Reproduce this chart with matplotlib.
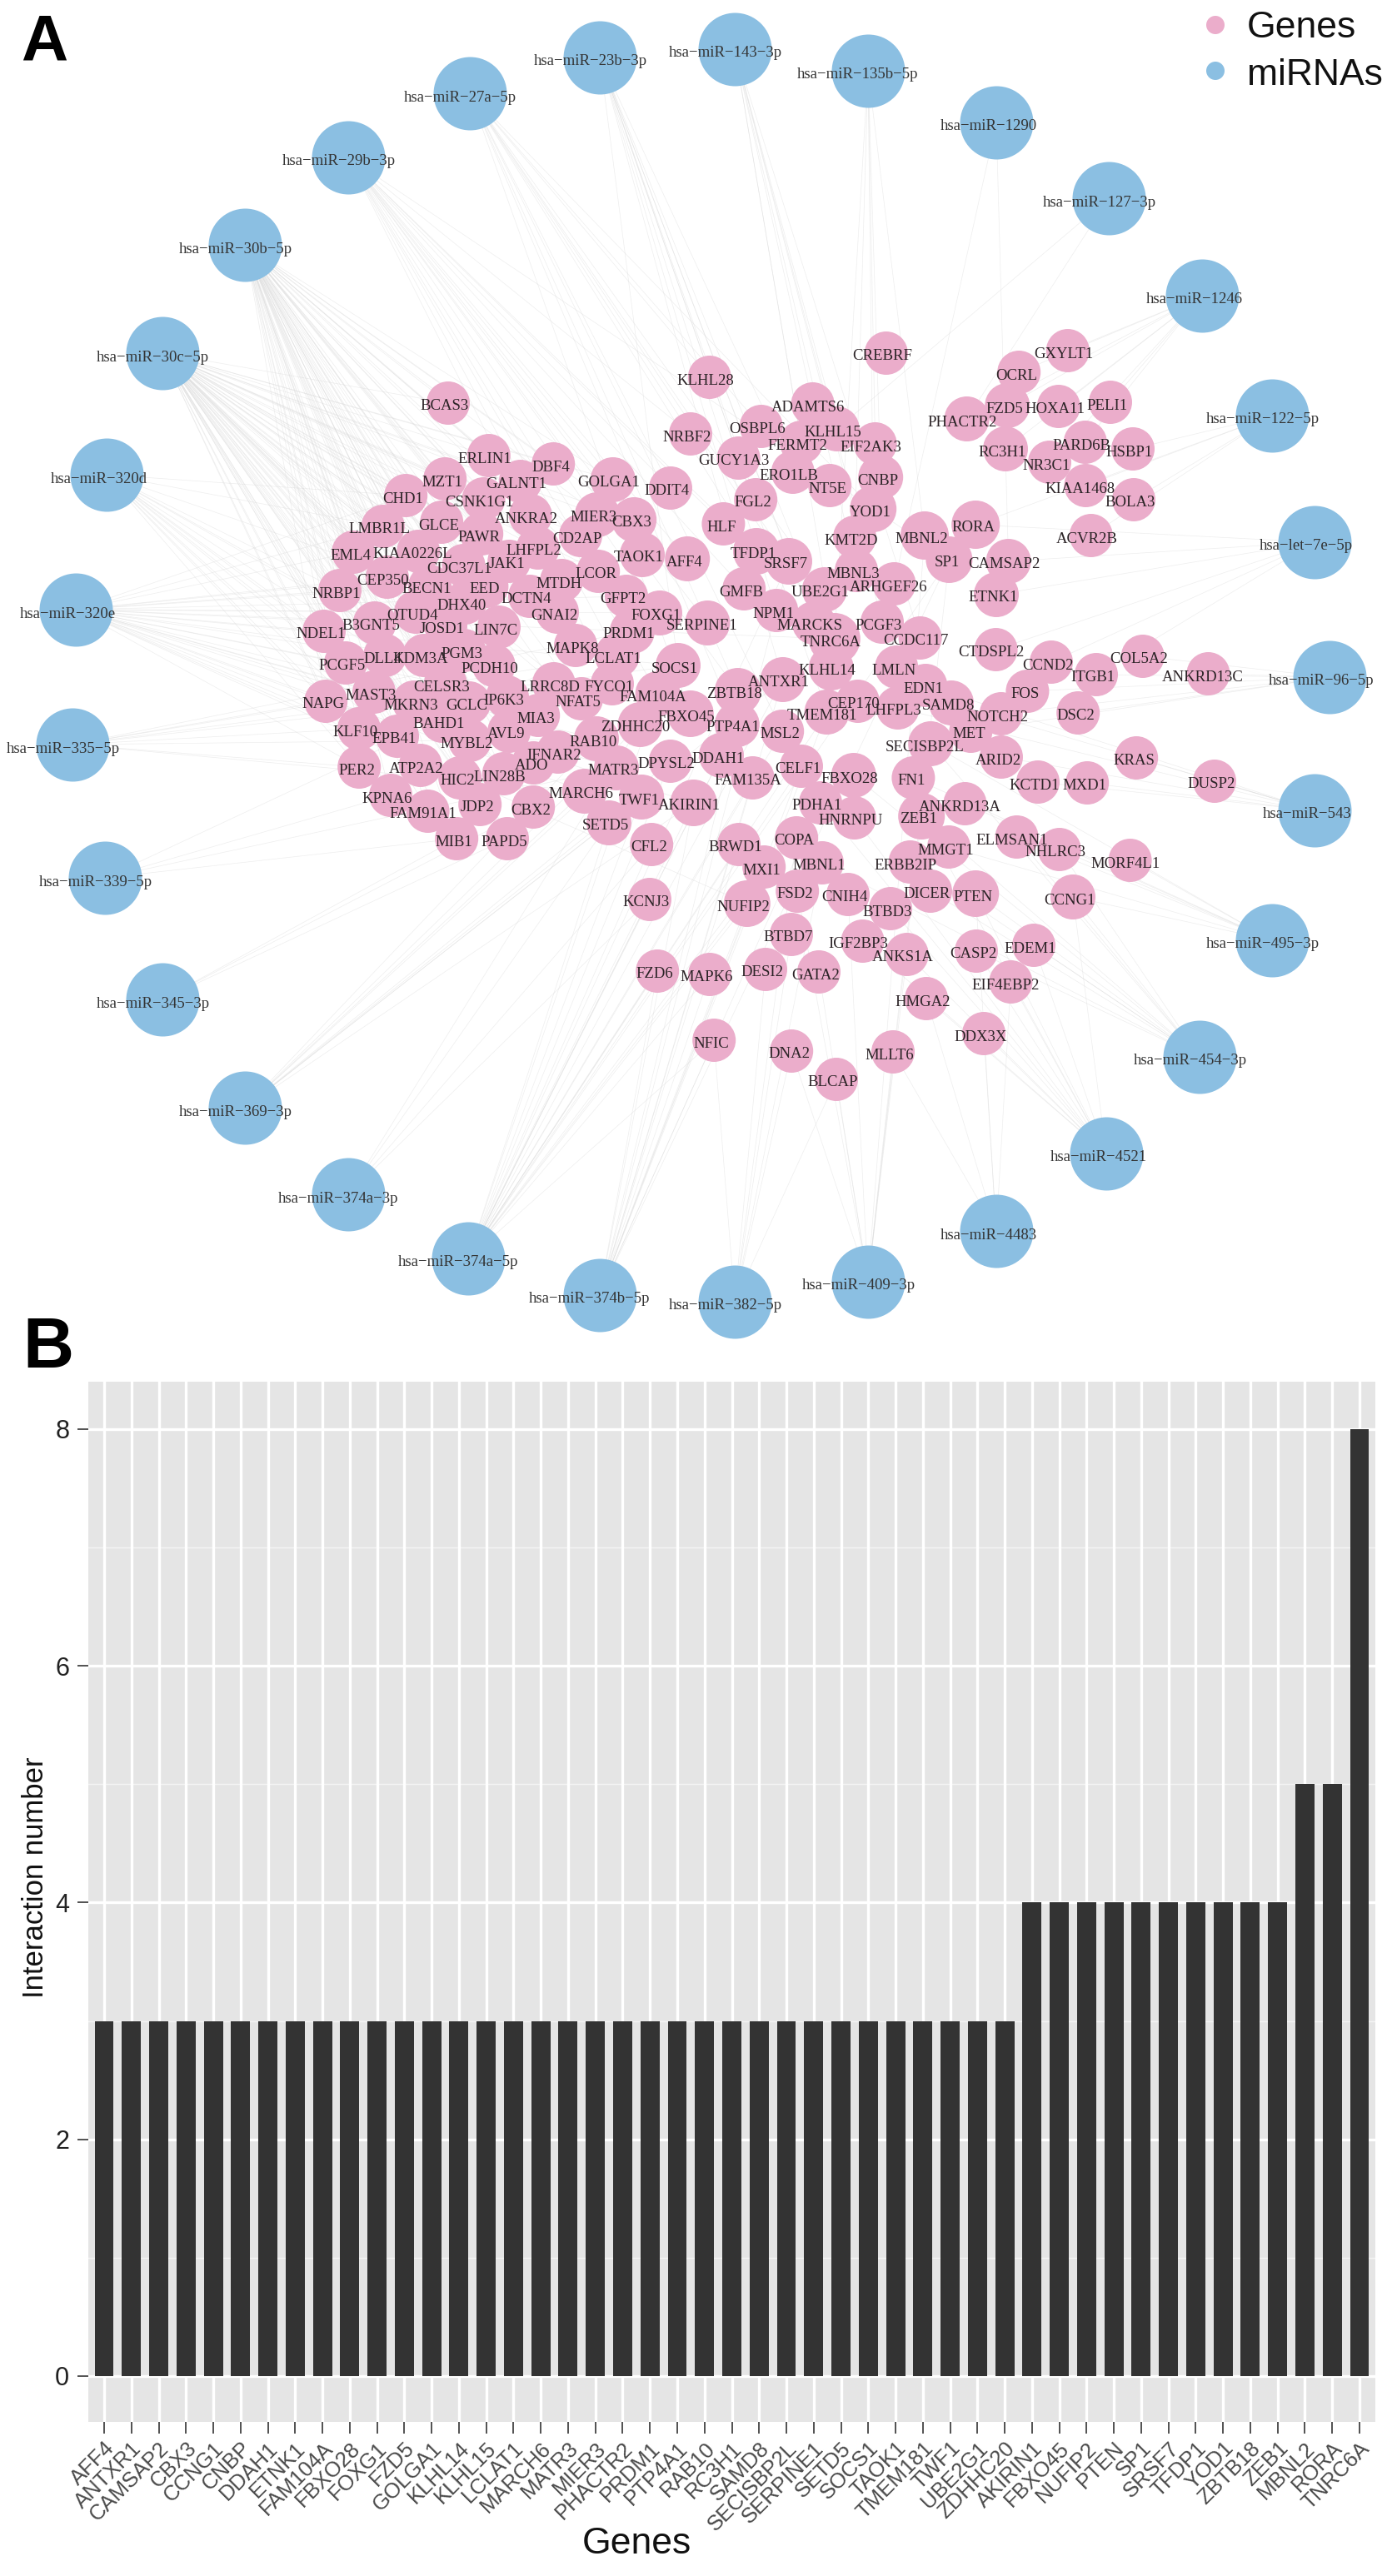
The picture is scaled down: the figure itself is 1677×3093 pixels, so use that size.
import matplotlib
matplotlib.use("Agg")
import matplotlib.pyplot as plt
from matplotlib.collections import LineCollection

W, H = 1677, 3093
DPI = 100

# ---- network data (layout, in picture pixels) ----
mirna_names = ["hsa-miR-27a-5p", "hsa-miR-23b-3p", "hsa-miR-143-3p", "hsa-miR-135b-5p", "hsa-miR-1290",
               "hsa-miR-127-3p", "hsa-miR-1246", "hsa-miR-122-5p", "hsa-let-7e-5p", "hsa-miR-96-5p",
               "hsa-miR-543", "hsa-miR-495-3p", "hsa-miR-454-3p", "hsa-miR-4521", "hsa-miR-4483",
               "hsa-miR-409-3p", "hsa-miR-382-5p", "hsa-miR-374b-5p", "hsa-miR-374a-5p", "hsa-miR-374a-3p",
               "hsa-miR-369-3p", "hsa-miR-345-3p", "hsa-miR-339-5p", "hsa-miR-335-5p", "hsa-miR-320e",
               "hsa-miR-320d", "hsa-miR-30c-5p", "hsa-miR-30b-5p", "hsa-miR-29b-3p"]
mirna_x = [564, 720, 882, 1042, 1196, 1331, 1443, 1527, 1578, 1596, 1578, 1527, 1440, 1328, 1196,
           1042, 882, 720, 562, 418, 294, 195, 126, 87, 91, 128, 195, 294, 418]
mirna_y = [112, 69, 59, 85, 147, 238, 355, 499, 651, 813, 973, 1129, 1269, 1385, 1478,
           1539, 1563, 1555, 1511, 1434, 1330, 1200, 1054, 894, 732, 570, 424, 294, 189]

gene_names = ["BCAS3", "KLHL28", "NRBF2", "ERLIN1", "DBF4", "MZT1", "GALNT1", "GOLGA1", "DDIT4", "CHD1",
              "CSNK1G1", "ANKRA2", "MIER3", "CBX3", "LMBR1L", "GLCE", "HLF", "PAWR", "CD2AP", "LHFPL2",
              "EML4", "KIAA0226L", "TAOK1", "AFF4", "CDC37L1", "JAK1", "LCOR", "MTDH", "CEP350", "NRBP1",
              "BECN1", "EED", "DCTN4", "GFPT2", "DHX40", "OTUD4", "GNAI2", "FOXG1", "B3GNT5", "JOSD1",
              "LIN7C", "SERPINE1", "NDEL1", "PRDM1", "MAPK8", "PGM3", "DLL4", "KDM3A", "PCGF5", "LCLAT1",
              "SOCS1", "PCDH10", "CELSR3", "LRRC8D", "FYCO1", "MAST3", "FAM104A", "ZBTB18", "NAPG", "MKRN3",
              "GCLC", "IP6K3", "NFAT5", "MIA3", "FBXO45", "BAHD1", "KLF10", "EPB41", "AVL9", "MYBL2",
              "IFNAR2", "RAB10", "ZDHHC20", "ADO", "MATR3", "DPYSL2", "ATP2A2", "PER2", "HIC2", "LIN28B",
              "MARCH6", "TWF1", "KPNA6", "JDP2", "CBX2", "FAM91A1", "SETD5", "CFL2", "MIB1", "PAPD5",
              "ANTXR1", "KLHL14", "LMLN", "EDN1", "CEP170", "TMEM181", "LHFPL3", "SAMD8", "PTP4A1", "MSL2",
              "MET", "SECISBP2L", "DDAH1", "CELF1", "FAM135A", "FBXO28", "FN1", "AKIRIN1", "PDHA1", "ANKRD13A",
              "HNRNPU", "ZEB1", "COPA", "BRWD1", "MMGT1", "NOTCH2", "CREBRF", "GXYLT1", "OCRL", "ADAMTS6",
              "FZD5", "HOXA11", "PELI1", "PHACTR2", "OSBPL6", "KLHL15", "FERMT2", "EIF2AK3", "PARD6B", "HSBP1",
              "RC3H1", "NR3C1", "GUCY1A3", "ERO1LB", "CNBP", "NT5E", "KIAA1468", "FGL2", "BOLA3", "YOD1",
              "RORA", "MBNL2", "KMT2D", "ACVR2B", "TFDP1", "SP1", "SRSF7", "CAMSAP2", "MBNL3", "ARHGEF26",
              "GMFB", "UBE2G1", "ETNK1", "NPM1", "MARCKS", "PCGF3", "TNRC6A", "CCDC117", "CTDSPL2", "COL5A2",
              "CCND2", "ITGB1", "ANKRD13C", "FOS", "DSC2", "KRAS", "ARID2", "KCTD1", "MXD1", "DUSP2",
              "ELMSAN1", "NHLRC3", "MORF4L1", "MXI1", "MBNL1", "ERBB2IP", "DICER", "PTEN", "CCNG1", "KCNJ3",
              "NUFIP2", "FSD2", "CNIH4", "BTBD3", "BTBD7", "IGF2BP3", "ANKS1A", "CASP2", "EDEM1", "FZD6",
              "MAPK6", "DESI2", "GATA2", "EIF4EBP2", "HMGA2", "DDX3X", "NFIC", "DNA2", "MLLT6", "BLCAP"]
gene_label_x = [534, 847, 825, 582, 661, 531, 620, 731, 801, 484,
                575, 632, 713, 758, 455, 527, 866, 575, 693, 641,
                421, 495, 767, 822, 551, 608, 715, 671, 460, 404,
                512, 582, 632, 748, 554, 495, 665, 788, 445, 531,
                595, 843, 385, 755, 687, 554, 459, 505, 411, 736,
                810, 588, 530, 660, 731, 445, 784, 881, 388, 493,
                560, 605, 694, 643, 824, 527, 427, 473, 608, 560,
                665, 712, 763, 638, 736, 800, 500, 428, 549, 600,
                697, 767, 465, 573, 637, 508, 727, 779, 545, 605,
                935, 993, 1073, 1108, 1025, 987, 1073, 1138, 880, 936,
                1163, 1110, 862, 958, 898, 1020, 1094, 827, 981, 1152,
                1021, 1103, 953, 883, 1135, 1197, 1059, 1277, 1220, 970,
                1206, 1266, 1329, 1155, 909, 1000, 957, 1045, 1298, 1356,
                1203, 1256, 881, 947, 1054, 993, 1297, 904, 1357, 1045,
                1168, 1106, 1022, 1305, 904, 1137, 943, 1205, 1024, 1067,
                890, 985, 1192, 929, 972, 1055, 997, 1099, 1190, 1367,
                1258, 1312, 1444, 1231, 1291, 1361, 1198, 1242, 1302, 1454,
                1215, 1267, 1351, 914, 983, 1087, 1113, 1168, 1284, 776,
                892, 954, 1014, 1065, 946, 1030, 1084, 1168, 1237, 786,
                848, 915, 979, 1207, 1108, 1177, 854, 947, 1068, 1000]
gene_label_y = [487, 456, 524, 550, 560, 578, 581, 579, 589, 598,
                602, 622, 621, 627, 635, 630, 632, 644, 646, 661,
                666, 665, 669, 674, 682, 677, 689, 700, 696, 712,
                707, 707, 719, 719, 727, 738, 738, 739, 751, 754,
                756, 751, 761, 761, 778, 784, 790, 790, 799, 790,
                802, 802, 824, 824, 824, 834, 836, 833, 845, 846,
                847, 840, 842, 862, 860, 869, 878, 887, 881, 892,
                906, 890, 873, 919, 925, 917, 922, 924, 937, 932,
                953, 960, 958, 969, 972, 977, 991, 1017, 1010, 1010,
                819, 805, 804, 826, 845, 858, 853, 847, 873, 881,
                881, 896, 910, 923, 937, 934, 937, 967, 967, 968,
                985, 983, 1009, 1017, 1020, 860, 427, 424, 450, 488,
                490, 491, 486, 506, 515, 518, 534, 536, 534, 542,
                542, 558, 553, 570, 576, 586, 586, 603, 603, 614,
                633, 646, 648, 646, 665, 675, 677, 677, 688, 704,
                710, 711, 717, 736, 751, 750, 770, 769, 783, 791,
                798, 813, 812, 833, 859, 913, 912, 942, 943, 941,
                1008, 1023, 1036, 1044, 1039, 1038, 1073, 1076, 1080, 1083,
                1088, 1073, 1077, 1094, 1125, 1133, 1149, 1145, 1138, 1169,
                1173, 1167, 1170, 1182, 1202, 1244, 1252, 1265, 1266, 1299]
assert len(gene_names) == len(gene_label_x) == len(gene_label_y)

mir30_targets = ["BCAS3", "ERLIN1", "DBF4", "MZT1", "GALNT1", "GOLGA1", "CHD1", "CSNK1G1", "ANKRA2", "MIER3",
                 "CBX3", "LMBR1L", "GLCE", "PAWR", "CD2AP", "LHFPL2", "EML4", "KIAA0226L", "CDC37L1", "JAK1",
                 "LCOR", "MTDH", "CEP350", "NRBP1", "BECN1", "EED", "DCTN4", "DHX40", "OTUD4", "GNAI2",
                 "B3GNT5", "JOSD1", "LIN7C", "NDEL1", "MAPK8", "PGM3", "DLL4", "KDM3A", "PCGF5", "PCDH10",
                 "CELSR3", "LRRC8D", "MAST3", "NAPG", "MKRN3", "GCLC", "IP6K3", "NFAT5", "MIA3", "BAHD1",
                 "KLF10", "EPB41", "AVL9", "MYBL2", "IFNAR2", "ADO", "ATP2A2", "PER2", "HIC2", "LIN28B",
                 "KPNA6", "JDP2", "CBX2", "FAM91A1", "MIB1", "PAPD5"]
mir320_targets = ["NDEL1", "NRBP1", "NAPG", "PCGF5", "KLF10", "PER2", "ATP2A2", "MAST3", "DLL4", "B3GNT5",
                  "BECN1", "LMBR1L", "CHD1", "KDM3A", "EPB41", "MKRN3", "CELSR3", "GFPT2", "SOCS1", "FOXG1",
                  "TNRC6A", "MATR3", "RAB10", "MARCH6", "TAOK1", "NUFIP2", "AKIRIN1", "EML4", "CEP350", "OTUD4"]
mir374_targets = ["MAPK6", "FZD6", "NFIC", "BRWD1", "NUFIP2", "FAM135A", "AKIRIN1", "CELF1", "PTP4A1", "TMEM181",
                  "SP1", "MXI1", "PDHA1", "ANTXR1", "SRSF7"]
mirna_targets = {
    "hsa-miR-27a-5p": ["KLHL28", "DDIT4", "NRBF2", "OSBPL6", "TFDP1", "SRSF7", "UBE2G1", "TNRC6A", "ZBTB18", "PTP4A1", "MSL2", "FBXO45", "YOD1"],
    "hsa-miR-23b-3p": ["ERO1LB", "GUCY1A3", "FGL2", "GMFB", "NPM1", "MARCKS", "SOCS1", "KLHL14", "ANTXR1", "TMEM181", "CEP170"],
    "hsa-miR-143-3p": ["KLHL15", "ADAMTS6", "FERMT2", "TNRC6A", "MBNL3", "PCGF3", "CCDC117", "LMLN"],
    "hsa-miR-135b-5p": ["CNBP", "EIF2AK3", "YOD1", "KMT2D", "MBNL2", "TNRC6A"],
    "hsa-miR-1290": ["ARHGEF26", "CAMSAP2"],
    "hsa-miR-127-3p": ["PHACTR2", "KLHL15"],
    "hsa-miR-1246": ["GXYLT1", "OCRL", "FZD5", "HOXA11", "PELI1", "PHACTR2", "RC3H1", "PARD6B", "NR3C1"],
    "hsa-miR-122-5p": ["HSBP1", "KIAA1468", "BOLA3", "ACVR2B", "RORA"],
    "hsa-let-7e-5p": ["ETNK1", "CAMSAP2", "RORA", "CTDSPL2", "CCND2", "ITGB1"],
    "hsa-miR-96-5p": ["COL5A2", "ANKRD13C", "ITGB1", "FOS", "NOTCH2", "DSC2", "MET"],
    "hsa-miR-543": ["KRAS", "DUSP2", "MXD1", "KCTD1", "ARID2", "SAMD8", "EDN1", "LHFPL3"],
    "hsa-miR-495-3p": ["MORF4L1", "NHLRC3", "ELMSAN1", "CCNG1", "ANKRD13A", "MMGT1", "FN1", "SECISBP2L"],
    "hsa-miR-454-3p": ["CCNG1", "EDEM1", "CASP2", "PTEN", "DICER", "ERBB2IP", "ZEB1", "MBNL1", "FBXO28", "SECISBP2L", "NHLRC3", "ELMSAN1"],
    "hsa-miR-4521": ["DDX3X", "EIF4EBP2", "HMGA2", "ANKS1A", "BTBD3", "EDEM1", "CASP2", "PTEN", "CCNG1", "ZEB1", "IGF2BP3", "HNRNPU", "PDHA1"],
    "hsa-miR-4483": ["MLLT6", "DDX3X", "HMGA2", "EIF4EBP2", "PTEN"],
    "hsa-miR-409-3p": ["BLCAP", "DNA2", "MLLT6", "GATA2", "CNIH4", "FSD2", "ANKS1A", "ZEB1", "MBNL2", "SP1"],
    "hsa-miR-382-5p": ["BLCAP", "DNA2", "NFIC", "DESI2", "BTBD7", "MBNL1", "COPA"],
    "hsa-miR-374b-5p": mir374_targets,
    "hsa-miR-374a-5p": mir374_targets + ["KCNJ3", "CFL2", "TWF1", "SETD5", "DDAH1", "DPYSL2", "MSL2", "FAM104A"],
    "hsa-miR-374a-3p": ["CFL2", "KCNJ3", "SETD5", "ZDHHC20"],
    "hsa-miR-369-3p": ["SETD5", "TWF1", "MATR3", "RAB10", "MARCH6", "ZDHHC20", "DPYSL2", "AKIRIN1", "ANTXR1"],
    "hsa-miR-345-3p": ["PAPD5", "MIB1", "CBX2"],
    "hsa-miR-339-5p": ["MIB1", "KPNA6", "PRDM1", "MATR3"],
    "hsa-miR-335-5p": ["PER2", "KLF10", "NAPG", "RAB10", "LCLAT1", "MARCH6", "SOCS1", "FYCO1", "PRDM1"],
    "hsa-miR-320e": mir320_targets,
    "hsa-miR-320d": mir320_targets[:16],
    "hsa-miR-30c-5p": mir30_targets,
    "hsa-miR-30b-5p": mir30_targets,
    "hsa-miR-29b-3p": ["GOLGA1", "CBX3", "TAOK1", "AFF4", "SERPINE1", "FOXG1", "PRDM1", "GFPT2", "LCLAT1", "FAM104A", "FYCO1", "ZBTB18", "SP1", "TFDP1", "HLF", "GMFB", "NRBF2", "DDIT4"],
}

# ---- bar chart data ----
bar_genes = ["AFF4", "ANTXR1", "CAMSAP2", "CBX3", "CCNG1", "CNBP", "DDAH1", "ETNK1", "FAM104A", "FBXO28",
             "FOXG1", "FZD5", "GOLGA1", "KLHL14", "KLHL15", "LCLAT1", "MARCH6", "MATR3", "MIER3", "PHACTR2",
             "PRDM1", "PTP4A1", "RAB10", "RC3H1", "SAMD8", "SECISBP2L", "SERPINE1", "SETD5", "SOCS1", "TAOK1",
             "TMEM181", "TWF1", "UBE2G1", "ZDHHC20", "AKIRIN1", "FBXO45", "NUFIP2", "PTEN", "SP1", "SRSF7",
             "TFDP1", "YOD1", "ZBTB18", "ZEB1", "MBNL2", "RORA", "TNRC6A"]
bar_counts = [3, 3, 3, 3, 3, 3, 3, 3, 3, 3, 3, 3, 3, 3, 3, 3, 3, 3, 3, 3, 3, 3, 3, 3, 3, 3, 3, 3, 3, 3, 3, 3, 3, 3,
              4, 4, 4, 4, 4, 4, 4, 4, 4, 4, 5, 5, 8]
y_ticks = [0, 2, 4, 6, 8]

PINK = "#EBADCB"
BLUE = "#8BBFE2"
EDGE = "#D9D9D9"
SERIF = "Liberation Serif"
SANS = "Liberation Sans"

fig = plt.figure(figsize=(W / DPI, H / DPI), dpi=DPI, facecolor="white")


def px_rect(left, top, right, bottom):
    return [left / W, 1 - bottom / H, (right - left) / W, (bottom - top) / H]


def pt_area(radius_px):
    return (2 * radius_px * 72 / DPI) ** 2


def label_dx(name):
    return 0.8 * len(name)


# ---- panel A ----
net = fig.add_axes([0, 0, 1, 1], zorder=2)
net.set_xlim(0, W)
net.set_ylim(H, 0)
net.axis("off")
net.patch.set_alpha(0)

degree = dict(zip(bar_genes, bar_counts))
gene_radius = {3: 27, 4: 28, 5: 29, 8: 31}
gx = [x + label_dx(n) for n, x in zip(gene_names, gene_label_x)]
gy = [y - 3 for y in gene_label_y]
gene_pos = dict(zip(gene_names, zip(gx, gy)))
mirna_pos = dict(zip(mirna_names, zip(mirna_x, mirna_y)))

segments = []
for mir, targets in mirna_targets.items():
    for g in targets:
        segments.append([mirna_pos[mir], gene_pos[g]])
net.add_collection(LineCollection(segments, colors=EDGE, linewidths=0.5, alpha=0.45, zorder=1))

net.scatter(gx, gy, s=[pt_area(gene_radius.get(degree.get(n), 26)) for n in gene_names],
            c=PINK, linewidths=0, zorder=2)
net.scatter(mirna_x, mirna_y, s=pt_area(44), c=BLUE, linewidths=0, zorder=2)

for n, x, y in zip(gene_names, gene_label_x, gene_label_y):
    net.text(x, y + 1, n, family=SERIF, fontsize=13.5, color="#2b2326", ha="center", va="center", zorder=3)
for n, x, y in zip(mirna_names, mirna_x, mirna_y):
    net.text(x - label_dx(n), y + 5, n.replace("-", "\u2212"), family=SERIF, fontsize=13.5,
             color="#333333", ha="center", va="center", zorder=3)

# legend
net.scatter([1459, 1459], [30, 85], s=pt_area(11), c=[PINK, BLUE], linewidths=0, zorder=3)
net.text(1497, 45, "Genes", family=SANS, fontsize=32, color="#111111", ha="left", va="baseline")
net.text(1497, 102, "miRNAs", family=SANS, fontsize=32, color="#111111", ha="left", va="baseline")

# panel letters
net.text(25, 72, "A", family=SANS, fontsize=56, fontweight="bold", color="black", ha="left", va="baseline")
net.text(27, 1642, "B", family=SANS, fontsize=61, fontweight="bold", color="black", ha="left", va="baseline")

# ---- panel B ----
ax = fig.add_axes(px_rect(106, 1659, 1651, 2908), zorder=1)
ax.set_facecolor("#E5E5E5")
xs = list(range(len(bar_genes)))
ax.bar(xs, bar_counts, width=0.7, color="#333333", zorder=3)
ax.set_xlim(-0.58, len(bar_genes) - 1 + 0.58)
ax.set_ylim(-0.387, 8.40)
ax.set_xticks(xs)
ax.set_xticklabels(bar_genes, rotation=45, ha="right", va="top", rotation_mode="anchor",
                   family=SANS, fontsize=18.5, color="#4A4A4A")
ax.set_yticks(y_ticks)
ax.set_yticklabels([str(v) for v in y_ticks], family=SANS, fontsize=22, color="#222222")
ax.set_yticks([1, 3, 5, 7], minor=True)
ax.tick_params(axis="x", length=10, width=1.2, color="#333333", pad=4)
ax.tick_params(axis="y", length=9.4, width=1.2, color="#333333", pad=7)
ax.tick_params(axis="y", which="minor", length=0)
ax.grid(True, which="major", color="white", linewidth=2.4, zorder=1)
ax.grid(True, which="minor", axis="y", color="white", linewidth=1.0, alpha=0.6, zorder=1)
ax.set_axisbelow(True)
for s in ax.spines.values():
    s.set_visible(False)
ax.set_ylabel("Interaction number", family=SANS, fontsize=25, color="#111111", va="center")
ax.yaxis.set_label_coords((43 - 106) / 1545, (2908 - 2254) / 1249)
ax.set_xlabel("Genes", family=SANS, fontsize=32, color="#111111", va="center")
ax.xaxis.set_label_coords((764 - 106) / 1545, (2908 - 3054) / 1249)

fig.savefig("out.png", dpi=DPI, facecolor="white")
